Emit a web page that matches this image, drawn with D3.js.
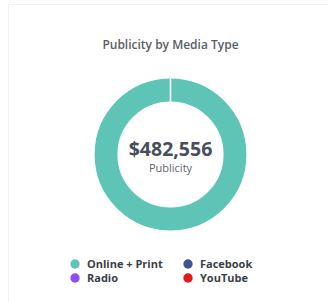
<!DOCTYPE html>
<html><head><meta charset="utf-8">
<script src="https://cdn.jsdelivr.net/npm/d3@7"></script>
<style>body{margin:0;background:#fff;}svg{display:block;font-family:"Open Sans",sans-serif;}</style>
</head><body>
<svg id="c" width="328" height="302"></svg>
<script>
const categories = ["Online + Print", "Facebook", "Radio", "YouTube"];
const values = [482556, 0, 0, 0];
const colors = ["#5ec4b5", "#3d5596", "#8c4ff5", "#e8161a"];
const title = "Publicity by Media Type";
const centerLabel = "Publicity";

const svg = d3.select("#c");
svg.append("rect").attr("x", 8.5).attr("y", 4.5).attr("width", 340).attr("height", 320)
  .attr("fill", "#fff").attr("stroke", "#f0f0f0").attr("stroke-width", 1);

svg.append("text").attr("x", 170.5).attr("y", 49).attr("text-anchor", "middle")
  .attr("font-size", 12).attr("font-weight", 600).attr("fill", "#585e66").text(title);

const cx = 170.5, cy = 154.5;
const pie = d3.pie().sort(null).value(d => d);
const arc = d3.arc().innerRadius(52.5).outerRadius(76.5);
const g = svg.append("g").attr("transform", `translate(${cx},${cy})`);
g.selectAll("path").data(pie(values)).join("path")
  .attr("d", arc).attr("fill", (d, i) => colors[i])
  .attr("stroke", "#fff").attr("stroke-width", 1.2);

const total = d3.sum(values);
g.append("text").attr("y", 1).attr("text-anchor", "middle")
  .attr("font-size", 19.5).attr("font-weight", 700).attr("fill", "#474e5c")
  .text("$" + d3.format(",")(total));
g.append("text").attr("y", 17.5).attr("text-anchor", "middle")
  .attr("font-size", 11).attr("fill", "#5f656d").text(centerLabel);

const legendPos = [[75, 264], [188, 264], [75, 278], [188, 278]];
const legendOrder = [0, 1, 2, 3];
const leg = svg.append("g");
legendOrder.forEach((ci, k) => {
  const [x, y] = legendPos[k];
  leg.append("circle").attr("cx", x).attr("cy", y).attr("r", 4.7).attr("fill", colors[ci]);
  leg.append("text").attr("x", x + 12).attr("y", y + 4).attr("font-size", 11)
    .attr("font-weight", 700).attr("fill", "#3a3f47").text(categories[ci]);
});
</script>
</body></html>
